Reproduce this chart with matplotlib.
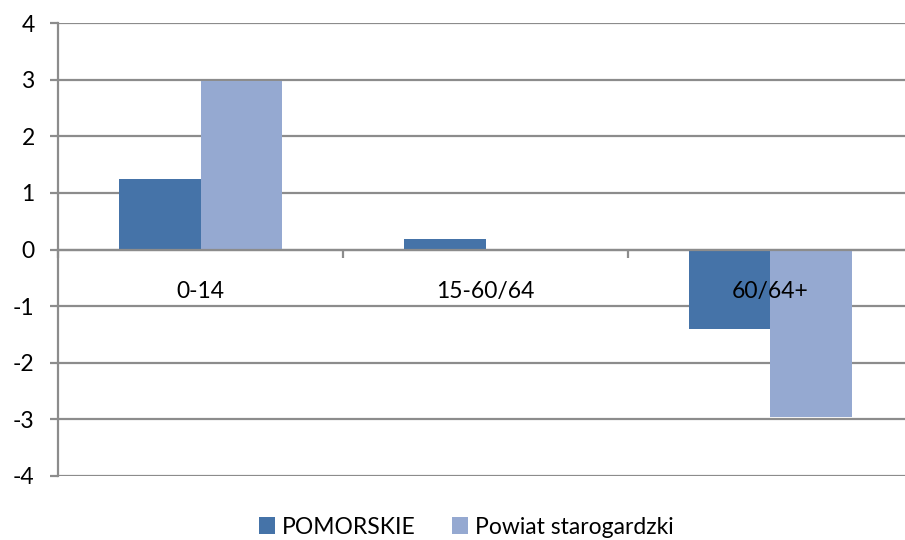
import matplotlib
matplotlib.use("Agg")
import matplotlib.pyplot as plt
from matplotlib.patches import Patch

categories = ["0-14", "15-60/64", "60/64+"]
pomorskie = [1.24, 0.19, -1.40]
powiat = [2.97, 0.0, -2.96]
series_names = ["POMORSKIE", "Powiat starogardzki"]
yticks = [-4, -3, -2, -1, 0, 1, 2, 3, 4]

c1 = "#4573A8"
c2 = "#95A9D1"
grid_c = "#8c8c8c"

plt.rcParams['font.family'] = ['Lato', 'DejaVu Sans']
fs = 16.5

fig = plt.figure(figsize=(9.05, 5.40), dpi=100)
ax = fig.add_axes([58.3/905, (540-476)/540, 854.4/905, 453/540])

bw = 0.286
x = list(range(len(categories)))
ax.bar([i - bw/2 for i in x], pomorskie, width=bw, color=c1, zorder=3)
ax.bar([i + bw/2 for i in x], powiat, width=bw, color=c2, zorder=3)

ax.set_xlim(-0.5, 2.5)
ax.set_ylim(-4, 4)
ax.set_yticks(yticks)
ax.set_yticklabels([str(v) for v in yticks], fontsize=fs)
ax.yaxis.grid(True, color=grid_c, linewidth=1.6, zorder=0)
ax.set_axisbelow(True)

for s in ["top", "right"]:
    ax.spines[s].set_visible(False)
ax.spines["left"].set_color(grid_c)
ax.spines["left"].set_linewidth(1.6)
ax.spines["bottom"].set_position(("data", 0))
ax.spines["bottom"].set_color(grid_c)
ax.spines["bottom"].set_linewidth(1.6)
ax.spines["bottom"].set_zorder(4)

ax.tick_params(axis="y", length=6, width=1.6, color=grid_c, pad=11)
ax.set_xticks(x)
ax.set_xticklabels([])
ax.tick_params(axis="x", which="major", length=0)
ax.set_xticks([-0.5, 0.5, 1.5, 2.5], minor=True)
ax.tick_params(axis="x", which="minor", length=6, width=1.6, color=grid_c, direction="out")

for i, lab in enumerate(categories):
    ax.text(i, -0.74, lab, ha="center", va="center", fontsize=fs, zorder=6)

handles = [Patch(facecolor=c1, edgecolor="none"), Patch(facecolor=c2, edgecolor="none")]
fig.legend(handles, series_names, loc="center", bbox_to_anchor=(0.515, 1 - 527/540),
           ncol=2, frameon=False, fontsize=fs, handlelength=0.7, handleheight=0.7,
           handletextpad=0.3, columnspacing=1.6)

fig.savefig("out.png", dpi=100)
